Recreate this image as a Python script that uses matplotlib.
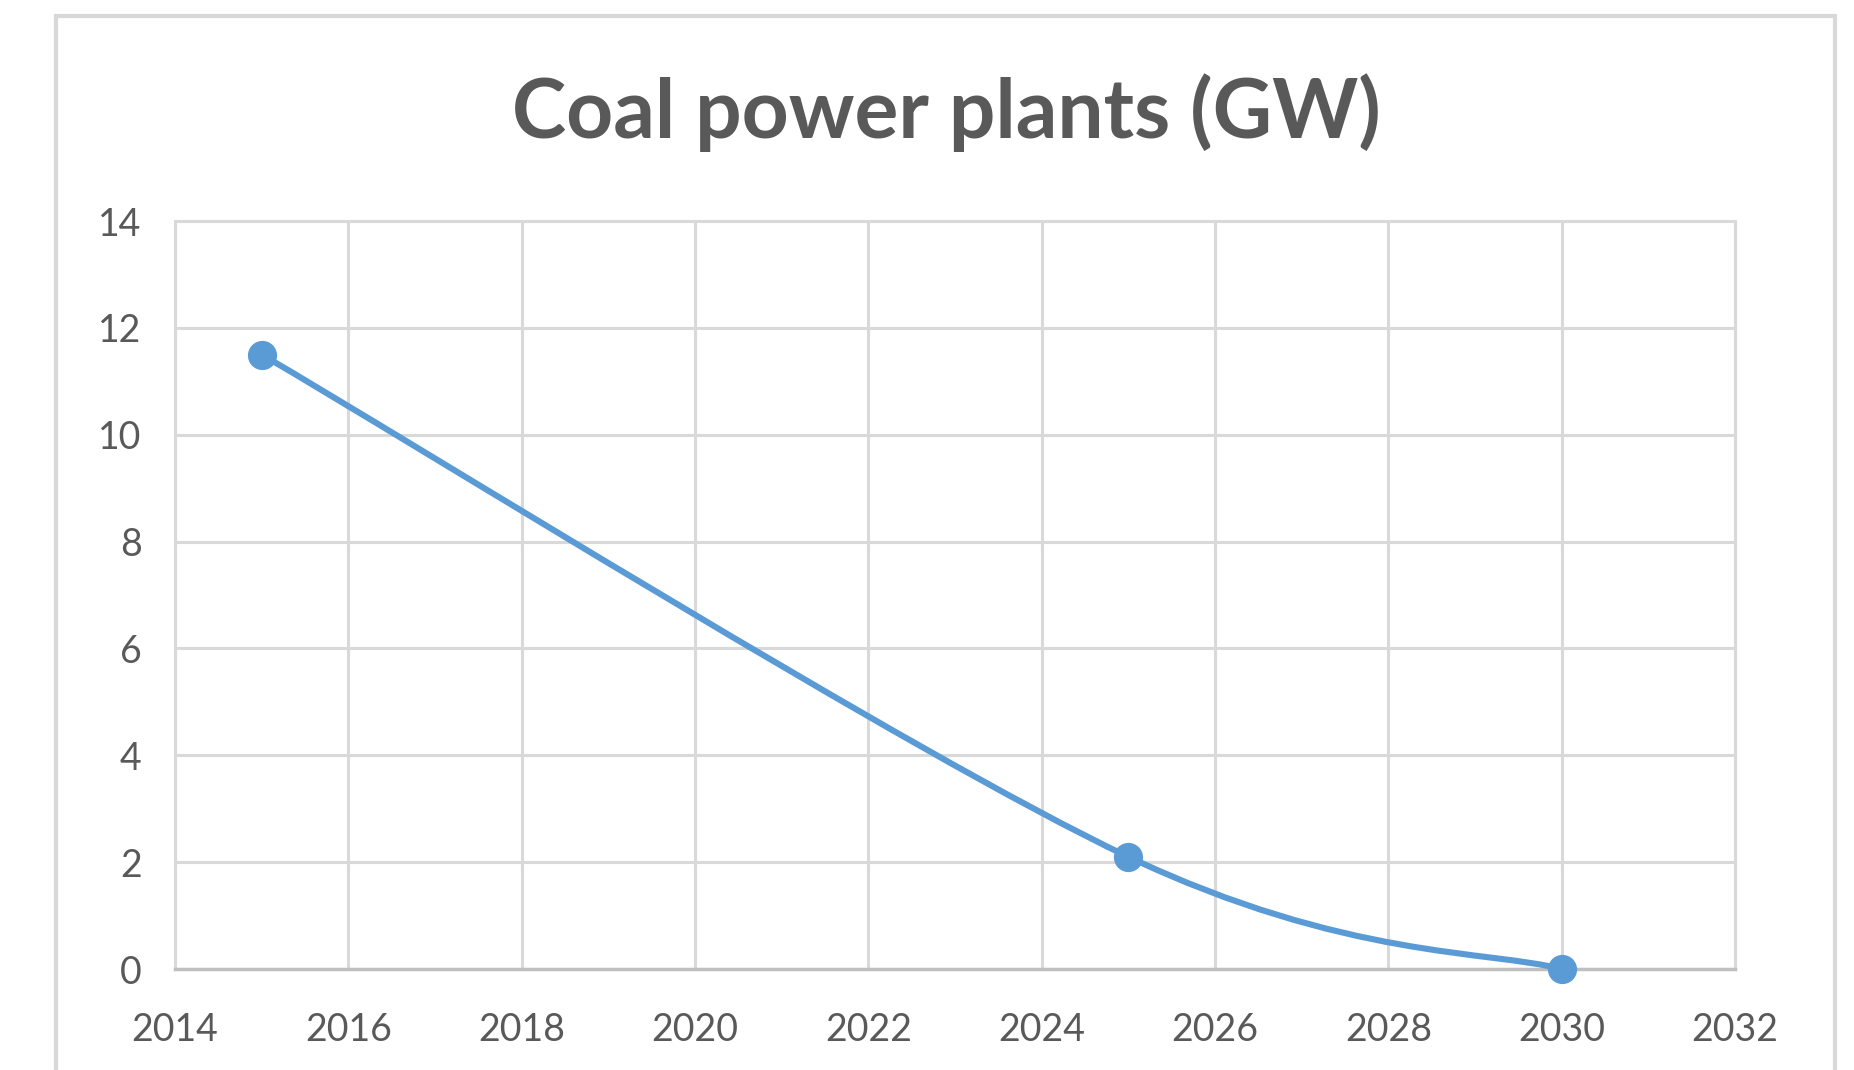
import numpy as np
import matplotlib
matplotlib.use('Agg')
import matplotlib.pyplot as plt
from matplotlib.path import Path
from matplotlib.patches import PathPatch, Rectangle

# data
years = [2015, 2025, 2030]
gw = [11.5, 2.1, 0.0]
x_ticks = [2014, 2016, 2018, 2020, 2022, 2024, 2026, 2028, 2030, 2032]
y_ticks = [0, 2, 4, 6, 8, 10, 12, 14]
title = 'Coal power plants (GW)'

blue = '#5b9bd5'
grey_txt = '#595959'
grid_c = '#d9d9d9'

plt.rcParams['font.family'] = ['Lato', 'DejaVu Sans']

fig = plt.figure(figsize=(18.54, 10.70), dpi=100)
ax = fig.add_axes([175/1854, 101/1070, 1560/1854, 748/1070])

# outer chart frame
fig.patches.append(Rectangle((56/1854, -0.05), 1779/1854, 1.05 - 16/1070,
                             transform=fig.transFigure, fill=False,
                             edgecolor=grid_c, linewidth=3))

# smoothed line like excel (catmull-rom -> bezier)
pts = np.column_stack([years, gw])
verts = [tuple(pts[0])]
codes = [Path.MOVETO]
for i in range(len(pts) - 1):
    p_prev = pts[i - 1] if i > 0 else pts[i]
    p_next = pts[i + 2] if i + 2 < len(pts) else pts[i + 1]
    c1 = pts[i] + (pts[i + 1] - p_prev) / 6
    c2 = pts[i + 1] - (p_next - pts[i]) / 6
    verts += [tuple(c1), tuple(c2), tuple(pts[i + 1])]
    codes += [Path.CURVE4] * 3
ax.add_patch(PathPatch(Path(verts, codes), fill=False, edgecolor=blue,
                       linewidth=4.4, capstyle='round', zorder=3))
ax.plot(years, gw, linestyle='none', marker='o', markersize=20,
        color=blue, zorder=4, clip_on=False)

ax.set_xlim(2014, 2032)
ax.set_ylim(0, 14)
ax.set_xticks(x_ticks)
ax.set_yticks(y_ticks)
ax.grid(True, color=grid_c, linewidth=2.2)
ax.set_axisbelow(True)
for s in ['left', 'right', 'top']:
    ax.spines[s].set_color(grid_c)
    ax.spines[s].set_linewidth(2.2)
ax.spines['bottom'].set_color('#bfbfbf')
ax.spines['bottom'].set_linewidth(2.5)
ax.tick_params(length=0, labelsize=27, labelcolor=grey_txt)
ax.tick_params(axis='y', pad=24)
ax.tick_params(axis='x', pad=31)

fig.text(946/1854, 1 - 113/1070, title, ha='center', va='center',
         fontsize=59, fontweight='bold', color=grey_txt)

fig.savefig('out.png', dpi=100)
